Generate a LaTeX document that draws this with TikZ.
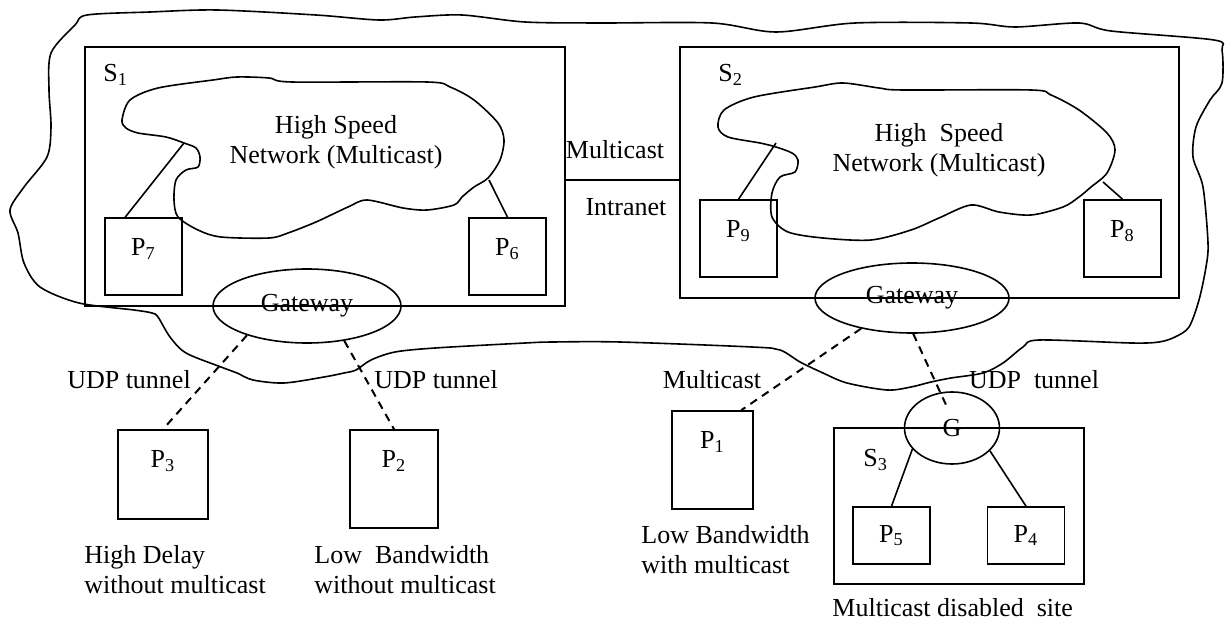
\documentclass[tikz,border=0pt]{standalone}
\usepackage{fontspec}
\setmainfont{Liberation Serif}
\usetikzlibrary{shapes.geometric}

\begin{document}
\begin{tikzpicture}[x=0.5pt,y=-0.5pt,
        font=\fontsize{13}{15}\selectfont,
        line width=0.8pt,
        site/.style={draw,inner sep=0pt},
        proc/.style={draw,inner sep=0pt,minimum width=38.5pt,minimum height=38.5pt},
        tag/.style={anchor=north,yshift=-7pt},
        gway/.style={draw,ellipse,inner sep=0pt},
        tunnel/.style={dash pattern=on 4pt off 3pt,line width=1pt}]
        \useasboundingbox (0,0) rectangle (1226,620);
        % the intranet
        \draw plot[smooth cycle,tension=0.5] coordinates {(87,15) (150,12) (217,10) (316,15) (379,20) (415,17) (462,15) (525,22) (600,23) (712,23) (776,32) (855,23) (971,23) (1015,27) (1079,23) (1111,31) (1214,40) (1222,50) (1222,83) (1210,100) (1196,127) (1193,157) (1203,187) (1208,243) (1206,267) (1199,300) (1189,327) (1175,337) (1159,342) (1131,343) (1039,340) (1023,347) (1003,363) (983,373) (951,378) (931,382) (911,387) (887,390) (847,383) (823,373) (800,362) (780,350) (752,347) (620,342) (553,342) (525,343) (435,348) (395,352) (371,360) (356,370) (344,373) (324,377) (284,383) (253,380) (237,373) (221,367) (186,353) (170,337) (158,317) (152,313) (134,310) (79,303) (40,287) (24,263) (18,233) (10,210) (24,187) (47,157) (51,127) (49,90) (51,53) (75,25)};
        % sites
        \node[site,minimum width=240pt,minimum height=129.5pt] (s1) at (325,176.5) {};
        \node[site,minimum width=249.5pt,minimum height=125.5pt] (s2) at (929.5,172.5) {};
        \node[site,minimum width=125pt,minimum height=78pt] (s3) at (959,506) {};
        \node (s1lab) at (96,75) [anchor=west] {S\textsubscript{1}};
        \node (s2lab) at (711,75) [anchor=west] {S\textsubscript{2}};
        \node (s3lab) at (856,460) [anchor=west] {S\textsubscript{3}};
        % high speed networks
        \draw plot[smooth cycle,tension=0.5] coordinates {(122,120) (130,100) (158,88) (213,80) (237,77) (269,78) (292,82) (427,82) (450,87) (474,100) (498,123) (504,140) (500,160) (488,178) (474,187) (462,197) (454,205) (427,210) (403,208) (367,200) (348,207) (316,222) (288,233) (269,238) (221,237) (198,230) (178,217) (174,200) (176,180) (186,170) (198,167) (200,157) (196,148) (184,143) (166,137) (138,133) (126,128)};
        \draw plot[smooth cycle,tension=0.5] coordinates {(718,127) (724,110) (754,97) (815,87) (843,83) (879,88) (903,90) (1031,90) (1051,95) (1079,110) (1107,133) (1115,150) (1107,173) (1091,187) (1079,197) (1063,207) (1031,215) (999,212) (971,205) (939,218) (911,230) (871,240) (823,238) (788,232) (772,217) (772,193) (780,177) (795,172) (798,160) (792,153) (776,147) (760,143) (728,137)};
        \node (net1) at (336,142) [align=center] {High Speed\\Network (Multicast)};
        \node (net2) at (939,150) [align=center] {High\ \ Speed\\Network (Multicast)};
        % gateways
        \node[gway,minimum width=94pt,minimum height=37pt] (gw1) at (307,306) {Gateway};
        \node[gway,minimum width=97pt,minimum height=35pt] (gw2) at (912,298) {Gateway};
        \node[gway,minimum width=47.5pt,minimum height=36pt] (g) at (952,428) {G};
        % processes
        \node[proc,label={[tag]north:P\textsubscript{7}}] (p7) at (143.5,256.5) {};
        \node[proc,label={[tag]north:P\textsubscript{6}}] (p6) at (507.5,256.5) {};
        \node[proc,label={[tag]north:P\textsubscript{9}}] (p9) at (738.5,238.5) {};
        \node[proc,label={[tag]north:P\textsubscript{8}}] (p8) at (1122.5,238.5) {};
        \node[proc,minimum width=45pt,minimum height=44.5pt,label={[tag]north:P\textsubscript{3}}] (p3) at (163,474.5) {};
        \node[proc,minimum width=44pt,minimum height=49pt,label={[tag]north:P\textsubscript{2}}] (p2) at (394,479) {};
        \node[proc,minimum width=40.5pt,minimum height=49pt,label={[tag]north:P\textsubscript{1}}] (p1) at (712.5,460) {};
        \node[proc,minimum height=28.5pt] (p5) at (891.5,535.5) {P\textsubscript{5}};
        \node[proc,minimum height=28.5pt] (p4) at (1026,535.5) {P\textsubscript{4}};
        % link labels
        \coordinate (link) at (0,180);
        \draw (s1.east |- link) -- (s2.west |- link);
        \node (mc) at (615,150) {Multicast};
        \node (intra) at (626,207) {Intranet};
        \node (udp1) at (129,380) {UDP tunnel};
        \node (udp2) at (436,380) {UDP tunnel};
        \node (mc2) at (712,380) {Multicast};
        \node (udp3) at (1034,380) {UDP\ \ tunnel};
        \node[align=left,anchor=west] (d3) at (77,570) {High Delay\\without multicast};
        \node[align=left,anchor=west] (d2) at (307,570) {Low\ \ Bandwidth\\without multicast};
        \node[align=left,anchor=west] (d1) at (634,550) {Low Bandwidth\\with multicast};
        \node[anchor=west] (d4) at (825,608) {Multicast disabled\ \ site};
        % connections
        \coordinate (c7) at (184,143);
        \coordinate (c6) at (489,180);
        \coordinate (c9) at (776,143);
        \coordinate (c8) at (1103,182);
        \coordinate (gend) at (947,407);
        \draw (c7) -- (p7.115);
        \draw (c6) -- (p6.north);
        \draw (c9) -- (p9.north);
        \draw (c8) -- (p8.north);
        \draw[tunnel] (gw1.206) -- (p3.north);
        \draw[tunnel] (gw1.317) -- (p2.north);
        \draw[tunnel] (gw2.211) -- (p1.60);
        \draw[tunnel] (gw2.272) -- (gend);
        \draw (g.208) -- (p5.north);
        \draw (g.329) -- (p4.north);
\end{tikzpicture}
\end{document}
